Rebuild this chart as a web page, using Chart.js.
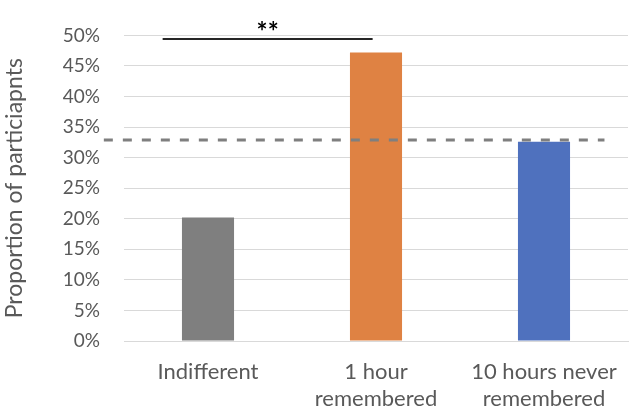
<!DOCTYPE html>
<html>
<head>
<meta charset="utf-8">
<script src="https://cdn.jsdelivr.net/npm/chart.js@4"></script>
<style>
  html, body { margin: 0; padding: 0; background: #fff; }
  #wrap { width: 630px; height: 411px; }
</style>
</head>
<body>
<div id="wrap"><canvas id="barChart"></canvas></div>
<script>
const categories = [['Indifferent'], ['1 hour', 'remembered'], ['10 hours never', 'remembered']];
const proportions = [0.202, 0.472, 0.326];
const barColors = ['#7F7F7F', '#DF8243', '#4F71BE'];
const chanceLevel = 0.329;
const yTicks = [0, 0.05, 0.1, 0.15, 0.2, 0.25, 0.3, 0.35, 0.4, 0.45, 0.5];
const sigLevel = 0.494;      // height of the significance bar
const sigFrom = -0.27, sigTo = 0.98;
const sigText = '**';

const textGrey = '#595959';
const fontName = 'Lato';

// dashed chance line + significance bracket
const overlays = {
  id: 'overlays',
  afterDatasetsDraw(chart) {
    const ctx = chart.ctx;
    const x = chart.scales.x, y = chart.scales.y;
    ctx.save();
    // chance line
    const yc = y.getPixelForValue(chanceLevel);
    ctx.strokeStyle = '#7F7F7F';
    ctx.lineWidth = 3;
    ctx.setLineDash([9, 10]);
    ctx.beginPath();
    ctx.moveTo(x.getPixelForValue(-0.62), yc);
    ctx.lineTo(x.getPixelForValue(2.36), yc);
    ctx.stroke();
    // significance bar
    ctx.setLineDash([]);
    const ys = y.getPixelForValue(sigLevel);
    ctx.strokeStyle = '#262626';
    ctx.lineWidth = 2;
    ctx.beginPath();
    ctx.moveTo(x.getPixelForValue(sigFrom), ys);
    ctx.lineTo(x.getPixelForValue(sigTo), ys);
    ctx.stroke();
    ctx.fillStyle = '#000';
    ctx.font = 'bold 26px ' + fontName;
    ctx.textAlign = 'center';
    ctx.textBaseline = 'alphabetic';
    ctx.fillText(sigText, (x.getPixelForValue(sigFrom) + x.getPixelForValue(sigTo)) / 2, ys + 2);
    ctx.restore();
  }
};

new Chart('barChart', {
  type: 'bar',
  data: {
    labels: categories,
    datasets: [{
      data: proportions,
      backgroundColor: barColors,
      barPercentage: 0.31,
      categoryPercentage: 1
    }]
  },
  options: {
    responsive: true,
    maintainAspectRatio: false,
    animation: false,
    layout: { padding: { top: 25, right: 2, left: 0, bottom: 0 } },
    plugins: { legend: { display: false }, tooltip: { enabled: false } },
    scales: {
      x: {
        grid: { display: false, drawTicks: false },
        border: { color: '#D9D9D9', width: 1 },
        ticks: {
          color: textGrey,
          font: { family: fontName, size: 22, lineHeight: 1.2 },
          padding: 18,
          maxRotation: 0,
          autoSkip: false
        },
        afterFit(scale) {
          scale.height = 70;
          scale.paddingLeft = 0;
          scale.paddingRight = 0;
        }
      },
      y: {
        min: 0,
        max: 0.5,
        afterBuildTicks(scale) { scale.ticks = yTicks.map(v => ({ value: v })); },
        grid: { color: '#D9D9D9', drawTicks: false },
        border: { display: false },
        ticks: {
          color: textGrey,
          font: { family: fontName, size: 19 },
          padding: 24,
          callback: v => Math.round(v * 100) + '%'
        },
        title: {
          display: true,
          text: 'Proportion of particiapnts',
          color: textGrey,
          font: { family: fontName, size: 23 },
          padding: { top: 1, bottom: 0 }
        },
        afterFit(scale) { scale.width = 124; }
      }
    }
  },
  plugins: [overlays]
});
</script>
</body>
</html>
